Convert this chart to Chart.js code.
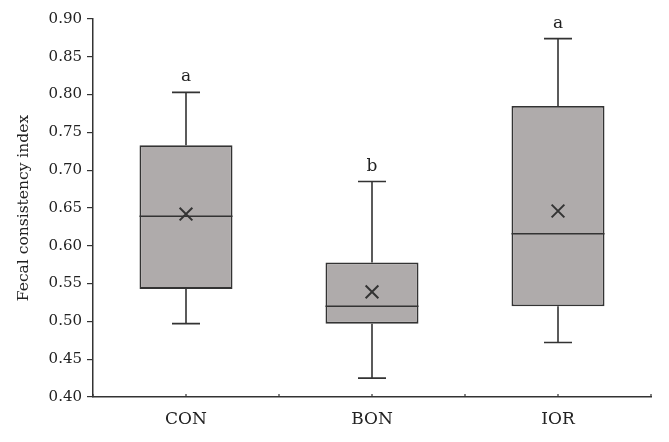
<!DOCTYPE html>
<html>
<head>
<meta charset="utf-8">
<script src="https://cdn.jsdelivr.net/npm/chart.js@4"></script>
<style>
html,body{margin:0;padding:0;background:#fff;}
#wrap{width:669px;height:442px;}
</style>
</head>
<body>
<div id="wrap"><canvas id="box"></canvas></div>
<script>
// box plot values
const groups=["CON","BON","IOR"];
const whiskerLow=[0.497,0.425,0.472];
const q1=[0.543,0.497,0.520];
const median=[0.639,0.520,0.616];
const q3=[0.733,0.578,0.785];
const whiskerHigh=[0.803,0.685,0.874];
const means=[0.642,0.539,0.646];
const letters=["a","b","a"];

const ink="#333";
const serif="'DejaVu Serif', serif";

const boxExtras={
    id:"boxExtras",
    afterDatasetsDraw(chart){
        const ctx=chart.ctx,x=chart.scales.x,y=chart.scales.y;
        const bars=chart.getDatasetMeta(0).data;
        ctx.save();
        ctx.strokeStyle=ink;
        ctx.lineWidth=1.6;
        groups.forEach((g,i)=>{
            const cx=x.getPixelForValue(i);
            const half=bars[i].width/2;
            const cap=14;
            const yLo=y.getPixelForValue(whiskerLow[i]);
            const yHi=y.getPixelForValue(whiskerHigh[i]);
            const y1=y.getPixelForValue(q1[i]);
            const y3=y.getPixelForValue(q3[i]);
            const ym=y.getPixelForValue(median[i]);
            ctx.beginPath();
            // whiskers
            ctx.moveTo(cx,y3);ctx.lineTo(cx,yHi);
            ctx.moveTo(cx-cap,yHi);ctx.lineTo(cx+cap,yHi);
            ctx.moveTo(cx,y1);ctx.lineTo(cx,yLo);
            ctx.moveTo(cx-cap,yLo);ctx.lineTo(cx+cap,yLo);
            // median
            ctx.moveTo(cx-half,ym);ctx.lineTo(cx+half,ym);
            ctx.stroke();
            // significance letters
            ctx.fillStyle="#222";
            ctx.font="17px "+serif;
            ctx.textAlign="center";
            ctx.textBaseline="alphabetic";
            ctx.fillText(letters[i],cx,yHi-11);
        });
        // small category ticks on the x axis
        ctx.lineWidth=1.2;
        ctx.beginPath();
        for(let k=-0.5;k<=groups.length-0.5;k+=0.5){
            const px=x.getPixelForValue(k);
            ctx.moveTo(px,x.top);ctx.lineTo(px,x.top-3);
        }
        ctx.stroke();
        ctx.restore();
    }
};

new Chart(document.getElementById("box"),{
    type:"bar",
    data:{
        labels:groups,
        datasets:[{
            data:groups.map((g,i)=>[q1[i],q3[i]]),
            backgroundColor:"#afabab",
            borderColor:ink,
            borderWidth:1.8,
            borderSkipped:false,
            categoryPercentage:1,
            barPercentage:0.5,
            order:2
        },{
            type:"line",
            data:means,
            showLine:false,
            pointStyle:"crossRot",
            pointRadius:9,
            pointBorderColor:ink,
            pointBorderWidth:2,
            borderColor:ink,
            order:1
        }]
    },
    options:{
        responsive:true,
        maintainAspectRatio:false,
        animation:false,
        layout:{padding:{top:19,right:18,bottom:0,left:0}},
        plugins:{legend:{display:false},tooltip:{enabled:false}},
        scales:{
            x:{
                grid:{display:false},
                border:{display:true,color:ink,width:1.5},
                ticks:{color:"#222",font:{family:serif,size:17},padding:4},
                afterFit:s=>{s.height=45;}
            },
            y:{
                min:0.4,max:0.9,
                grid:{drawOnChartArea:false,tickLength:6,color:ink,lineWidth:1.2},
                border:{display:true,color:ink,width:1.5},
                ticks:{stepSize:0.05,color:"#222",font:{family:serif,size:15},padding:5,
                    callback:v=>v.toFixed(2)},
                title:{display:true,text:"Fecal consistency index",color:"#222",
                    font:{family:serif,size:15.5},padding:{top:15,bottom:0}},
                afterFit:s=>{s.width=93;}
            }
        }
    },
    plugins:[boxExtras]
});
</script>
</body>
</html>
